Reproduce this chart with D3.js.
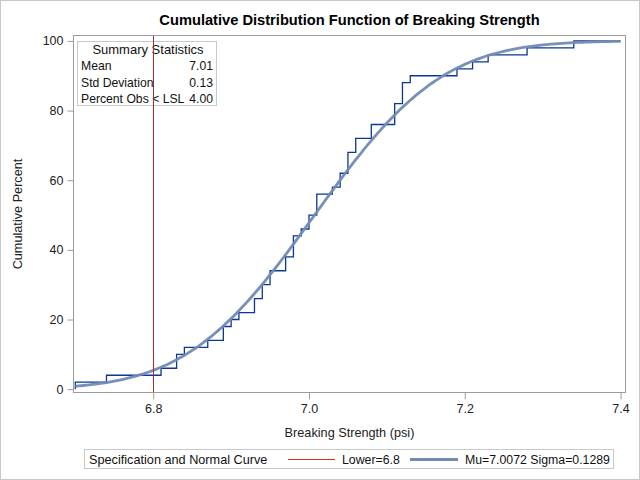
<!DOCTYPE html>
<html>
<head>
<meta charset="utf-8">
<script src="https://cdn.jsdelivr.net/npm/d3@7"></script>
<style>
  html, body { margin: 0; padding: 0; background: #fff; }
  svg { display: block; font-family: "Liberation Sans", Arial, sans-serif; }
</style>
</head>
<body>
<svg id="chart" width="640" height="480"></svg>
<script>
// ---- Data ----
const jumpValues = [6.70, 6.74, 6.81, 6.83, 6.84, 6.87, 6.89, 6.90, 6.91, 6.93,
                    6.94, 6.95, 6.97, 6.98, 6.99, 7.00, 7.01, 7.03, 7.04, 7.05,
                    7.06, 7.08, 7.11, 7.12, 7.13, 7.19, 7.21, 7.23, 7.28, 7.34];
const cumPercent = [2, 4, 6, 10, 12, 14, 18, 20, 22, 26,
                    30, 34, 38, 44, 46, 50, 56, 58, 62, 68,
                    72, 76, 82, 88, 90, 92, 94, 96, 98, 100];
const xTicks = [6.8, 7.0, 7.2, 7.4];
const yTicks = [0, 20, 40, 60, 80, 100];
const lowerSpec = 6.8;
const mu = 7.0072;
const sigma = 0.1289;
const curveRange = [6.70, 7.40];
const statLabels = ["Mean", "Std Deviation", "Percent Obs < LSL"];
const statValues = ["7.01", "0.13", "4.00"];
const titleText = "Cumulative Distribution Function of Breaking Strength";
const xTitle = "Breaking Strength (psi)";
const yTitle = "Cumulative Percent";
const legendTitle = "Specification and Normal Curve";
const legendLabels = ["Lower=6.8", "Mu=7.0072 Sigma=0.1289"];

// ---- Layout ----
const L = 73, R = 626, T = 35, B = 393;
const FS = 12.7;
const svg = d3.select("#chart");
const x = d3.scaleLinear().domain([6.697, 7.407]).range([L, R]);
const y = d3.scaleLinear().domain([-1.1, 101.7]).range([B, T]);

const stepColor = "#0a3697";
const curveColor = "#7189b3";
const specColor = "#a8302a";
const frameColor = "#9b9b9b";

// outer border
svg.append("rect").attr("x", 0.5).attr("y", 0.5).attr("width", 639).attr("height", 479)
  .attr("fill", "none").attr("stroke", "#c8c8c8");

// title
svg.append("text").attr("x", (L + R) / 2).attr("y", 25).attr("text-anchor", "middle")
  .attr("font-size", 14.67).attr("font-weight", "bold").attr("fill", "#000").text(titleText);

// frame
svg.append("rect").attr("x", L + 0.5).attr("y", T + 0.5).attr("width", R - L - 1).attr("height", B - T - 1)
  .attr("fill", "none").attr("stroke", frameColor);

// axes
const yAxis = svg.append("g").attr("transform", `translate(${L + 0.5},0)`)
  .call(d3.axisLeft(y).tickValues(yTicks).tickSize(6).tickPadding(4).tickFormat(d3.format("d")));
const xAxis = svg.append("g").attr("transform", `translate(0,${B - 0.5})`)
  .call(d3.axisBottom(x).tickValues(xTicks).tickSize(7).tickPadding(5).tickFormat(d3.format(".1f")));
[xAxis, yAxis].forEach(g => {
  g.select(".domain").remove();
  g.selectAll(".tick line").attr("stroke", frameColor);
  g.selectAll(".tick text").attr("font-size", 12.5).attr("fill", "#222")
    .attr("font-family", "'Liberation Sans', Arial, sans-serif");
});

// axis titles
svg.append("text").attr("x", (L + R) / 2).attr("y", 437).attr("text-anchor", "middle")
  .attr("font-size", FS).attr("fill", "#222").text(xTitle);
svg.append("text").attr("transform", `translate(22,${(T + B) / 2}) rotate(-90)`)
  .attr("text-anchor", "middle").attr("font-size", FS).attr("fill", "#222").text(yTitle);

// inset summary statistics
const inset = svg.append("g");
inset.append("rect").attr("x", 77.5).attr("y", 41.5).attr("width", 139).attr("height", 64)
  .attr("fill", "#fff").attr("stroke", "#c8c8c8");
inset.append("text").attr("x", 148).attr("y", 54).attr("text-anchor", "middle")
  .attr("font-size", 13).attr("fill", "#111").text("Summary Statistics");
statLabels.forEach((s, i) => {
  inset.append("text").attr("x", 81).attr("y", 70 + i * 16.5).attr("font-size", 12.2)
    .attr("fill", "#111").text(s);
  inset.append("text").attr("x", 213).attr("y", 70 + i * 16.5).attr("font-size", 12.2)
    .attr("text-anchor", "end").attr("fill", "#111").text(statValues[i]);
});

// ECDF step function
const stepPts = [[jumpValues[0], 0]];
jumpValues.forEach((v, i) => stepPts.push([v, cumPercent[i]]));
stepPts.push([curveRange[1], 100]);
svg.append("path").datum(stepPts)
  .attr("d", d3.line().x(d => x(d[0])).y(d => y(d[1])).curve(d3.curveStepAfter))
  .attr("fill", "none").attr("stroke", stepColor).attr("stroke-width", 1.3);

// fitted normal CDF (from the legend's Mu and Sigma)
function erf(z) {
  const t = 1 / (1 + 0.3275911 * Math.abs(z));
  const yv = 1 - (((((1.061405429 * t - 1.453152027) * t) + 1.421413741) * t - 0.284496736) * t + 0.254829592) * t * Math.exp(-z * z);
  return z >= 0 ? yv : -yv;
}
const normPts = d3.range(curveRange[0], curveRange[1] + 0.0001, 0.005)
  .map(v => [v, 50 * (1 + erf((v - mu) / (sigma * Math.SQRT2)))]);
svg.append("path").datum(normPts)
  .attr("d", d3.line().x(d => x(d[0])).y(d => y(d[1])).curve(d3.curveMonotoneX))
  .attr("fill", "none").attr("stroke", curveColor).attr("stroke-width", 2.8)
  .attr("stroke-opacity", 0.95);

// lower spec line
svg.append("line").attr("x1", Math.round(x(lowerSpec)) + 0.5).attr("x2", Math.round(x(lowerSpec)) + 0.5)
  .attr("y1", T + 1).attr("y2", B - 1).attr("stroke", specColor).attr("stroke-width", 1);

// legend
const lg = svg.append("g");
lg.append("rect").attr("x", 84.5).attr("y", 449.5).attr("width", 529).attr("height", 19)
  .attr("fill", "none").attr("stroke", "#c8c8c8");
lg.append("text").attr("x", 89).attr("y", 463.5).attr("font-size", FS).attr("fill", "#111").text(legendTitle);
lg.append("line").attr("x1", 288).attr("x2", 335).attr("y1", 459.5).attr("y2", 459.5)
  .attr("stroke", "#d0341f").attr("stroke-width", 1.2);
lg.append("text").attr("x", 342).attr("y", 463.5).attr("font-size", 12.3).attr("fill", "#111").text(legendLabels[0]);
lg.append("line").attr("x1", 410).attr("x2", 458).attr("y1", 459.5).attr("y2", 459.5)
  .attr("stroke", curveColor).attr("stroke-width", 2.8);
lg.append("text").attr("x", 465).attr("y", 463.5).attr("font-size", 12.3).attr("fill", "#111").text(legendLabels[1]);
</script>
</body>
</html>
